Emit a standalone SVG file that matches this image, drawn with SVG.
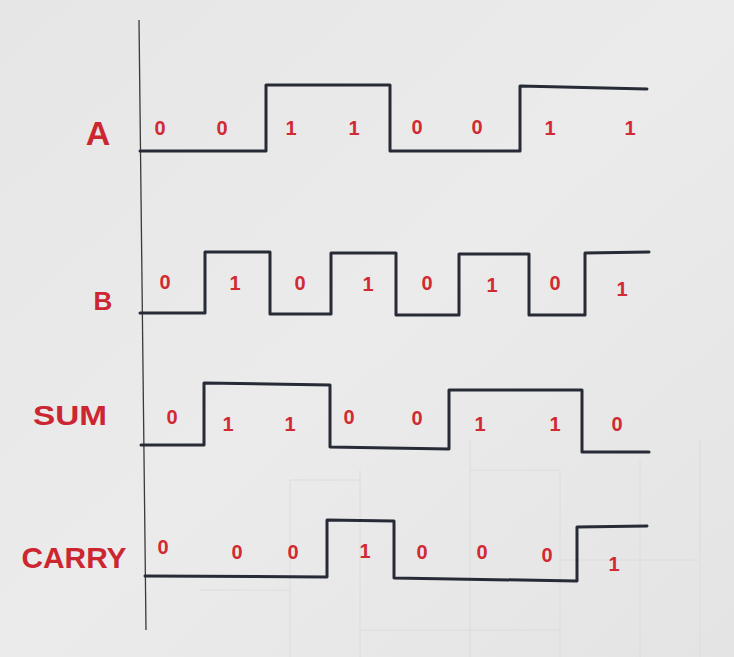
<svg xmlns="http://www.w3.org/2000/svg" width="734" height="657" viewBox="0 0 734 657">
  <defs>
    <linearGradient id="paper" x1="0" y1="0" x2="1" y2="1">
      <stop offset="0" stop-color="#e6e6e6"/>
      <stop offset="0.5" stop-color="#ebebeb"/>
      <stop offset="1" stop-color="#e4e4e4"/>
    </linearGradient>
  </defs>
  <style>
    .wave { fill: none; stroke: #262b36; stroke-width: 3; stroke-linejoin: round; stroke-linecap: round; }
    .axis { fill: none; stroke: #3a3a3a; stroke-width: 1.3; }
    .lbl { fill: #cc2630; font-family: "Liberation Sans", Arial, sans-serif; font-weight: bold; text-anchor: middle; }
    .d { fill: #d12a33; font-family: "Liberation Sans", Arial, sans-serif; font-weight: bold; font-size: 20px; text-anchor: middle; }
    .grid { fill: none; stroke: #dcdcdc; stroke-width: 1; }
  </style>
  <rect x="0" y="0" width="734" height="657" fill="url(#paper)"/>
  <g id="bleed" class="grid">
    <path d="M290 480 L290 657 M360 470 L360 657 M470 440 L470 657 M560 470 L560 657 M640 460 L640 657 M700 440 L700 657 M290 480 L360 480 M470 470 L560 470 M560 560 L700 560 M200 590 L290 590 M360 630 L560 630"/>
  </g>
  <g id="axis">
    <path class="axis" d="M139 20 L146 630"/>
  </g>
  <g id="connectors">
    <path id="wave-A" class="wave" d="M140 151 L266 151 L266 85 L390 85 L390 151 L520 151 L520 86 L647 89"/>
    <path id="wave-B" class="wave" d="M140 313 L205 313 L205 252 L270 252 L270 314 L331 314 L331 253 L396 253 L396 315 L459 315 L459 254 L529 254 L529 315 L585 315 L585 253 L649 252"/>
    <path id="wave-SUM" class="wave" d="M141 445 L204 445 L204 383 L330 385 L330 447 L449 449 L449 390 L582 390 L582 452 L649 452"/>
    <path id="wave-CARRY" class="wave" d="M145 576 L327 577 L327 520 L394 521 L394 578 L577 581 L577 527 L647 526"/>
  </g>
  <g id="signal-A">
    <text class="lbl" x="98" y="145" font-size="34">A</text>
    <text class="d" x="160" y="135">0</text>
    <text class="d" x="222" y="135">0</text>
    <text class="d" x="291" y="135">1</text>
    <text class="d" x="354" y="135">1</text>
    <text class="d" x="417" y="134">0</text>
    <text class="d" x="477" y="134">0</text>
    <text class="d" x="550" y="135">1</text>
    <text class="d" x="630" y="135">1</text>
  </g>
  <g id="signal-B">
    <text class="lbl" x="103" y="310" font-size="26">B</text>
    <text class="d" x="165" y="289">0</text>
    <text class="d" x="235" y="290">1</text>
    <text class="d" x="300" y="290">0</text>
    <text class="d" x="368" y="291">1</text>
    <text class="d" x="427" y="290">0</text>
    <text class="d" x="492" y="292">1</text>
    <text class="d" x="555" y="290">0</text>
    <text class="d" x="622" y="296">1</text>
  </g>
  <g id="signal-SUM">
    <text class="lbl" x="70" y="425" font-size="28" textLength="74" lengthAdjust="spacingAndGlyphs">SUM</text>
    <text class="d" x="172" y="424">0</text>
    <text class="d" x="228" y="431" font-size="23">1</text>
    <text class="d" x="290" y="431" font-size="23">1</text>
    <text class="d" x="349" y="424">0</text>
    <text class="d" x="417" y="425">0</text>
    <text class="d" x="480" y="431">1</text>
    <text class="d" x="555" y="431">1</text>
    <text class="d" x="617" y="431" font-size="22">0</text>
  </g>
  <g id="signal-CARRY">
    <text class="lbl" x="74" y="568" font-size="30" textLength="105" lengthAdjust="spacingAndGlyphs">CARRY</text>
    <text class="d" x="163" y="554">0</text>
    <text class="d" x="237" y="559">0</text>
    <text class="d" x="293" y="559">0</text>
    <text class="d" x="365" y="558">1</text>
    <text class="d" x="422" y="559">0</text>
    <text class="d" x="482" y="559">0</text>
    <text class="d" x="547" y="562">0</text>
    <text class="d" x="614" y="571" font-size="24">1</text>
  </g>
</svg>
